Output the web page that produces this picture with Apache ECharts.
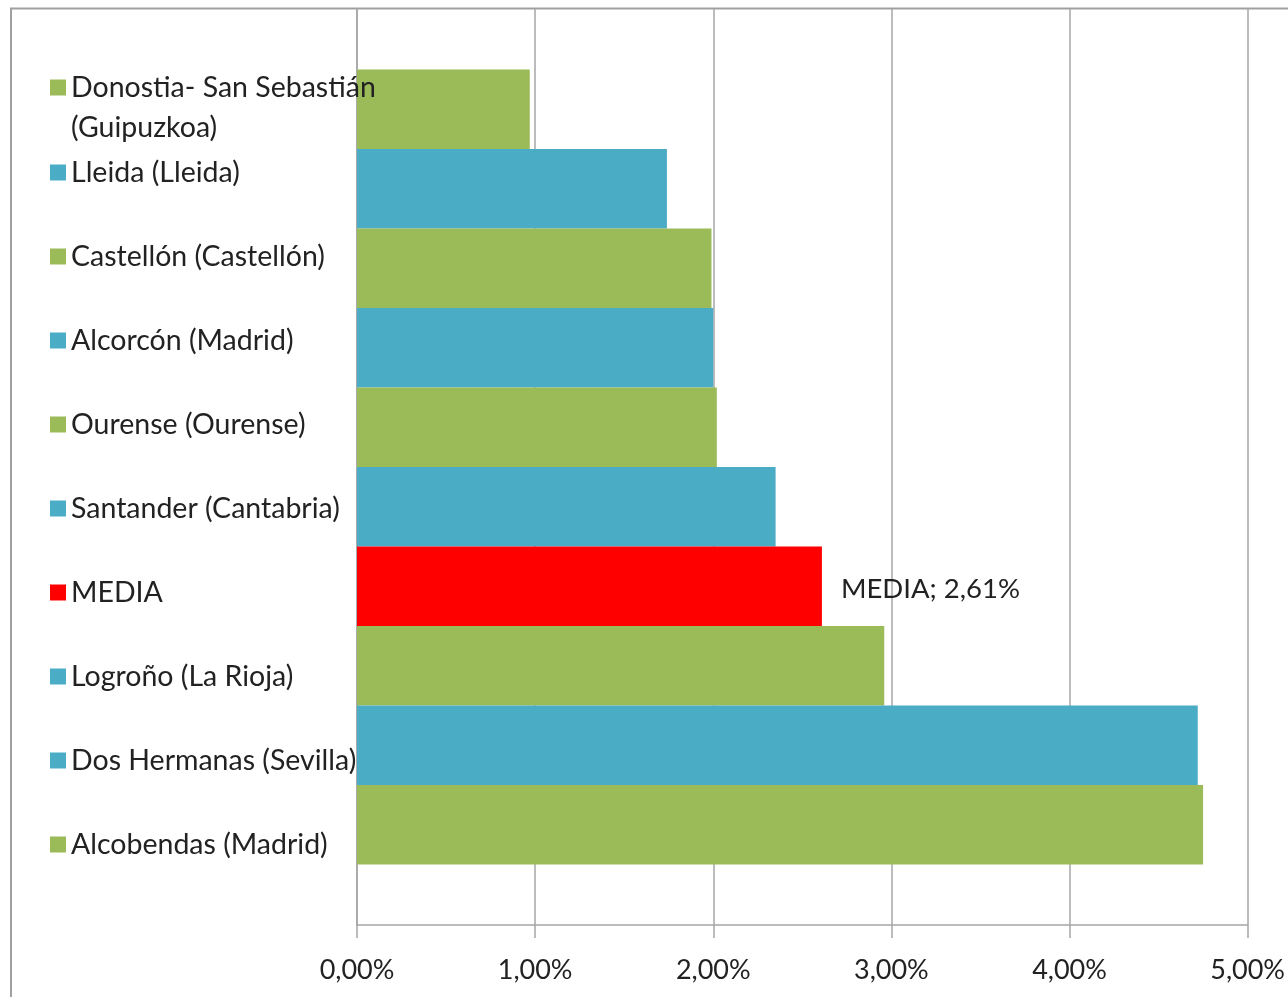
<!DOCTYPE html>
<html>
<head>
<meta charset="utf-8">
<script src="https://cdn.jsdelivr.net/npm/echarts@6/dist/echarts.min.js"></script>
<style>
html,body{margin:0;padding:0;background:#fff;}
#chart{width:1288px;height:997px;}
</style>
</head>
<body>
<div id="chart"></div>
<script>
// Data (top to bottom as drawn)
const cities = [
  'Donostia- San Sebastián\n(Guipuzkoa)',
  'Lleida (Lleida)',
  'Castellón (Castellón)',
  'Alcorcón (Madrid)',
  'Ourense (Ourense)',
  'Santander (Cantabria)',
  'MEDIA',
  'Logroño (La Rioja)',
  'Dos Hermanas (Sevilla)',
  'Alcobendas (Madrid)'
];
const values = [0.97, 1.74, 1.99, 2.00, 2.02, 2.35, 2.61, 2.96, 4.72, 4.75];
const barColorKeys = ['g','b','g','b','g','b','r','g','b','g'];
const legendColorKeys = ['g','b','g','b','g','b','r','b','b','g'];
const xTicks = [0, 1, 2, 3, 4, 5];

const palette = { g: '#9BBB59', b: '#4BACC6', r: '#FF0000' };
const FONT = 'Lato';
const TXT = '#222222';
const GRID = '#A6A6A6';

const series = cities.map((name, i) => ({
  type: 'bar',
  name: name,
  data: [values[i]],
  barGap: '0%',
  barCategoryGap: '13.2%',
  itemStyle: { color: palette[barColorKeys[i]] },
  label: name === 'MEDIA' ? {
    show: true,
    position: 'right',
    distance: 19,
    offset: [0, 3],
    fontFamily: FONT,
    fontSize: 27.5,
    color: TXT,
    formatter: p => 'MEDIA; ' + p.value.toFixed(2).replace('.', ',') + '%'
  } : { show: false },
  emphasis: { disabled: true }
}));

const legendData = cities.map((name, i) => {
  const d = { name: name, itemStyle: { color: palette[legendColorKeys[i]] } };
  if (name.indexOf('\n') >= 0) {
    d.textStyle = { lineHeight: 40 };
  }
  return d;
});

const chart = echarts.init(document.getElementById('chart'), null, { renderer: 'canvas' });
chart.setOption({
  animation: false,
  backgroundColor: '#ffffff',
  graphic: [{
    type: 'rect',
    shape: { x: 11, y: 8.5, width: 1400, height: 1100 },
    style: { fill: 'none', stroke: '#A0A0A0', lineWidth: 2 },
    silent: true,
    z: -10
  }],
  grid: { left: 357, right: 36, top: 9, bottom: 72, containLabel: false },
  xAxis: {
    type: 'value',
    min: xTicks[0],
    max: xTicks[xTicks.length - 1],
    interval: 1,
    axisLine: { show: true, lineStyle: { color: GRID, width: 1.5 } },
    axisTick: { show: true, length: 13, lineStyle: { color: GRID, width: 1.5 } },
    splitLine: { show: true, lineStyle: { color: GRID, width: 1.5 } },
    axisLabel: {
      margin: 32,
      fontFamily: FONT,
      fontSize: 27,
      color: TXT,
      formatter: v => v.toFixed(2).replace('.', ',') + '%'
    }
  },
  yAxis: {
    type: 'category',
    data: [''],
    axisLine: { show: true, lineStyle: { color: GRID, width: 1.5 } },
    axisTick: { show: false },
    axisLabel: { show: false },
    splitLine: { show: false }
  },
  legend: {
    orient: 'vertical',
    left: 50,
    top: 27.5,
    padding: 0,
    itemGap: -34,
    itemWidth: 16,
    itemHeight: 16,
    icon: 'rect',
    selectedMode: false,
    formatter: name => name.indexOf('\n') >= 0 ? '\n' + name : name,
    textStyle: { fontFamily: FONT, fontSize: 28.5, color: TXT, lineHeight: 118 },
    data: legendData
  },
  series: series
});
</script>
</body>
</html>
